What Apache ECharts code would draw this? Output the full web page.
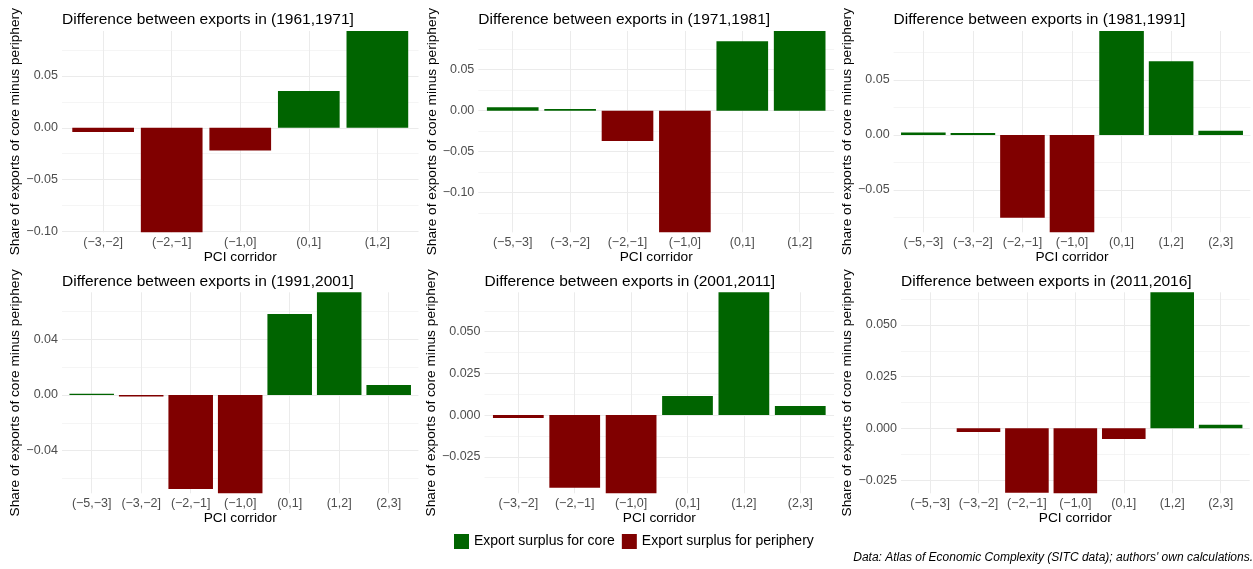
<!DOCTYPE html>
<html><head><meta charset="utf-8">
<script src="https://cdn.jsdelivr.net/npm/echarts@6/dist/echarts.min.js"></script>
<style>html,body{margin:0;padding:0;background:#fff}#c{width:1253px;height:569px}</style>
</head><body><div id="c"></div>
<script>
// ---- data ----
const periods = ['(1961,1971]', '(1971,1981]', '(1981,1991]', '(1991,2001]', '(2001,2011]', '(2011,2016]'];
const cats1961 = ['(−3,−2]', '(−2,−1]', '(−1,0]', '(0,1]', '(1,2]'];
const vals1961 = [-0.004, -0.101, -0.022, 0.0355, 0.0935];
const cats1971 = ['(−5,−3]', '(−3,−2]', '(−2,−1]', '(−1,0]', '(0,1]', '(1,2]'];
const vals1971 = [0.0041, 0.002, -0.037, -0.1483, 0.0846, 0.0972];
const cats1981 = ['(−5,−3]', '(−3,−2]', '(−2,−1]', '(−1,0]', '(0,1]', '(1,2]', '(2,3]'];
const vals1981 = [0.0022, 0.0018, -0.0752, -0.0885, 0.0945, 0.067, 0.0039];
const cats1991 = ['(−5,−3]', '(−3,−2]', '(−2,−1]', '(−1,0]', '(0,1]', '(1,2]', '(2,3]'];
const vals1991 = [0.001, -0.001, -0.0675, -0.0706, 0.0582, 0.0738, 0.0072];
const cats2001 = ['(−3,−2]', '(−2,−1]', '(−1,0]', '(0,1]', '(1,2]', '(2,3]'];
const vals2001 = [-0.0018, -0.0436, -0.0469, 0.0114, 0.0736, 0.0054];
const cats2011 = ['(−5,−3]', '(−3,−2]', '(−2,−1]', '(−1,0]', '(0,1]', '(1,2]', '(2,3]'];
const vals2011 = [0, -0.0018, -0.0311, -0.0314, -0.0052, 0.0658, 0.0018];
const tickSteps = [0.05, 0.05, 0.05, 0.04, 0.025, 0.025];
const tickDecimals = [2, 2, 2, 2, 3, 3];
const seriesNames = ['Export surplus for core', 'Export surplus for periphery'];
const titlePrefix = 'Difference between exports in ';
const yTitle = 'Share of exports of core minus periphery';
const xTitle = 'PCI corridor';
const caption = "Data: Atlas of Economic Complexity (SITC data); authors' own calculations.";

const panelCats = [cats1961, cats1971, cats1981, cats1991, cats2001, cats2011];
const panelVals = [vals1961, vals1971, vals1981, vals1991, vals2001, vals2011];

// ---- layout / style ----
const FONT = '"Liberation Sans", Arial, sans-serif';
const colors = ['#006400', '#800000'];
const layout = [
  {L: 62,    R: 418.5,  T: 31,    B: 232.3, yt: 17},
  {L: 478.3, R: 834.1,  T: 31,    B: 232.3, yt: 432.3},
  {L: 893.6, R: 1250.4, T: 31,    B: 232.3, yt: 852.3},
  {L: 62,    R: 418.4,  T: 292.3, B: 493.3, yt: 17},
  {L: 484.5, R: 834.1,  T: 292.3, B: 493.3, yt: 433},
  {L: 901,   R: 1249.7, T: 292.3, B: 493.3, yt: 852.3}
];

const grid = [], xAxis = [], yAxis = [], series = [], title = [];
panelVals.forEach((vals, i) => {
  const lay = layout[i];
  const cats = panelCats[i];
  const n = cats.length;
  const s = (lay.R - lay.L) / (n + 0.2);
  const ymin = Math.min(...vals), ymax = Math.max(...vals);
  const h = lay.B - lay.T;
  // background grid (full panel)
  grid.push({left: lay.L, top: lay.T, width: lay.R - lay.L, height: h});
  // band grid (category area)
  grid.push({left: lay.L + 0.1 * s, top: lay.T, width: n * s, height: h});
  const dec = tickDecimals[i];
  xAxis.push({gridIndex: 2 * i, type: 'value', min: 0, max: 1, show: false});
  yAxis.push({
    gridIndex: 2 * i, type: 'value', min: ymin, max: ymax,
    minInterval: tickSteps[i], maxInterval: tickSteps[i],
    axisLine: {show: false}, axisTick: {show: false},
    axisLabel: {
      margin: 4, color: '#4d4d4d', fontSize: 12.5, fontFamily: FONT,
      showMinLabel: false, showMaxLabel: false,
      formatter: v => (Math.abs(v) < 1e-9 ? 0 : v).toFixed(dec).replace('-', '−')
    },
    splitLine: {show: true, showMinLine: false, showMaxLine: false, lineStyle: {color: '#ebebeb', width: 1}},
    minorTick: {show: false, splitNumber: 2},
    minorSplitLine: {show: true, lineStyle: {color: '#f3f3f3', width: 0.8}},
    name: yTitle, nameLocation: 'middle', nameGap: lay.L - lay.yt - 10,
    nameTextStyle: {fontSize: 13.7, color: '#000', fontFamily: FONT}
  });
  xAxis.push({
    gridIndex: 2 * i + 1, type: 'category', data: cats,
    axisLine: {show: false}, axisTick: {show: false},
    axisLabel: {margin: 4, color: '#4d4d4d', fontSize: 12.5, fontFamily: FONT, interval: 0},
    splitLine: {show: true, alignWithLabel: true, interval: 0, lineStyle: {color: '#ebebeb', width: 1}},
    name: xTitle, nameLocation: 'middle', nameGap: 17,
    nameTextStyle: {fontSize: 13.7, color: '#000', fontFamily: FONT}
  });
  yAxis.push({gridIndex: 2 * i + 1, type: 'value', min: ymin, max: ymax, show: false});
  series.push({
    name: seriesNames[0], type: 'bar', xAxisIndex: 2 * i + 1, yAxisIndex: 2 * i + 1,
    data: vals.map(v => v > 0 ? v : '-'), barWidth: '90%', barGap: '-100%',
    itemStyle: {color: colors[0]}
  });
  series.push({
    name: seriesNames[1], type: 'bar', xAxisIndex: 2 * i + 1, yAxisIndex: 2 * i + 1,
    data: vals.map(v => v < 0 ? v : '-'), barWidth: '90%', barGap: '-100%',
    itemStyle: {color: colors[1]}
  });
  title.push({
    text: titlePrefix + periods[i], left: lay.L, top: lay.T - 19, padding: 0,
    textStyle: {fontSize: 15.5, fontWeight: 'normal', color: '#000', fontFamily: FONT}
  });
});

const chart = echarts.init(document.getElementById('c'));
chart.setOption({
  animation: false,
  backgroundColor: '#fff',
  title,
  grid, xAxis, yAxis, series,
  legend: {
    data: seriesNames, left: 454, top: 534, padding: 0,
    itemWidth: 15, itemHeight: 15, itemGap: 7, icon: 'rect',
    textStyle: {fontSize: 14, color: '#000', fontFamily: FONT}
  },
  graphic: [{
    type: 'text', right: 0, top: 552,
    style: {text: caption, font: 'italic 12px "Liberation Sans", Arial, sans-serif', fill: '#000'}
  }]
});
</script>
</body></html>
